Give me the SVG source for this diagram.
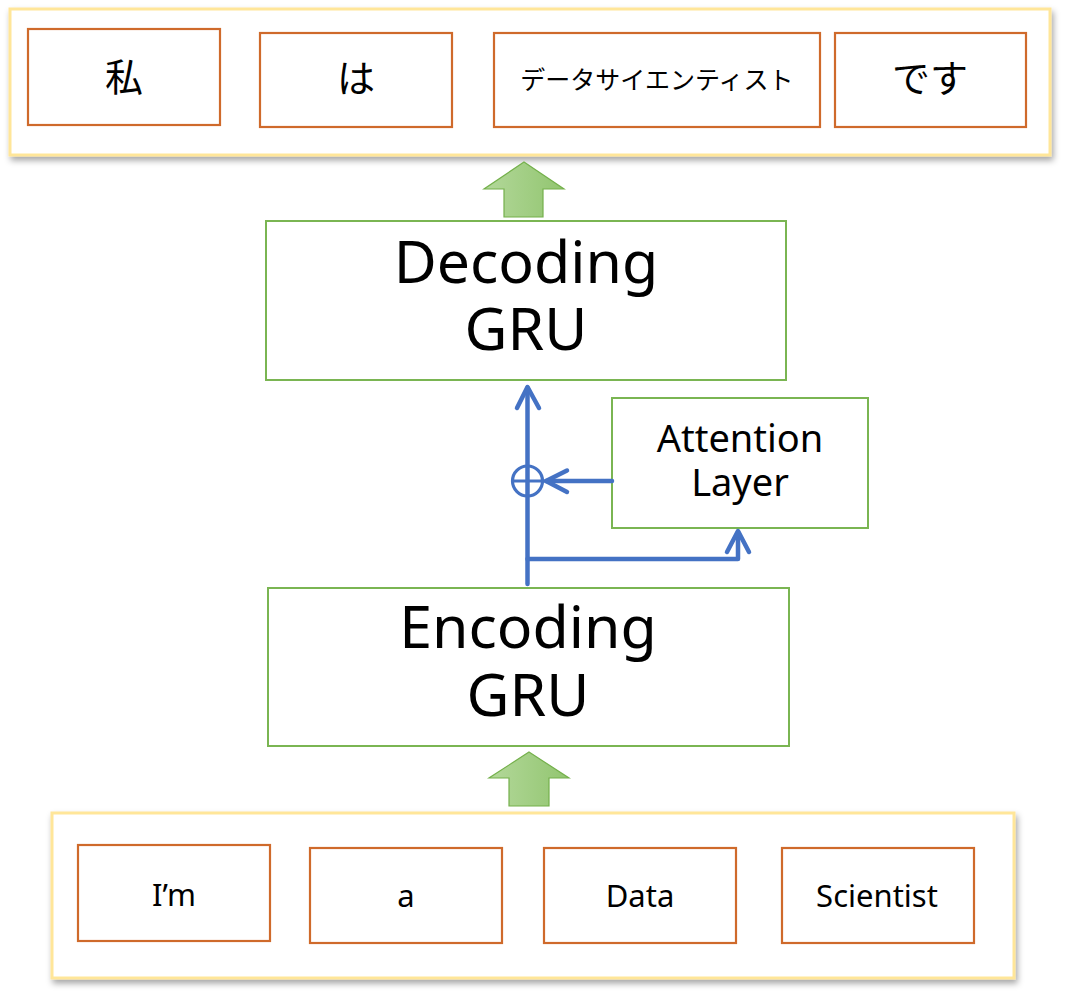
<svg xmlns="http://www.w3.org/2000/svg" width="1066" height="995" viewBox="0 0 1066 995">
<style>
.panel{fill:#fff;stroke:#FFE699;stroke-width:3}
.word{fill:#fff;stroke:#CF6A2B;stroke-width:2.2}
.gru{fill:#fff;stroke:#7AB552;stroke-width:2}
.bigarrow{fill:url(#g);stroke:#74B04B;stroke-width:1.2}
.en{font-family:"Noto Sans","Liberation Sans",sans-serif;fill:#000;text-anchor:middle}
.jp{font-family:"Noto Sans CJK JP","Noto Sans",sans-serif;fill:#000;text-anchor:middle}
.conn{fill:none;stroke:#4472C4;stroke-width:4.5;stroke-linecap:round;stroke-linejoin:round}
</style>
<defs>
<linearGradient id="g" x1="0" y1="0" x2="1" y2="0">
<stop offset="0" stop-color="#B3D89A"/>
<stop offset="1" stop-color="#92C570"/>
</linearGradient>
<filter id="sh" x="-5%" y="-10%" width="110%" height="130%">
<feDropShadow dx="2" dy="4" stdDeviation="3" flood-color="#000" flood-opacity="0.35"/>
</filter>
</defs>
<rect width="1066" height="995" fill="#fff"/>

<g id="output-panel">
<rect class="panel" x="10" y="9" width="1040" height="146" filter="url(#sh)"/>
</g>
<g id="out-watashi"><rect class="word" x="28" y="29" width="192" height="96"/><text class="jp" x="124" y="91" font-size="38">私</text></g>
<g id="out-wa"><rect class="word" x="260" y="33" width="192" height="94"/><text class="jp" x="356" y="92" font-size="38">は</text></g>
<g id="out-datascientist"><rect class="word" x="494" y="33" width="326" height="94"/><text class="jp" x="657" y="89" font-size="25">データサイエンティスト</text></g>
<g id="out-desu"><rect class="word" x="835" y="33" width="191" height="94"/><text class="jp" x="930" y="92" font-size="38">です</text></g>

<g id="arrow-top"><path class="bigarrow" d="M524,162 L564,189 L543,189 L543,217 L504,217 L504,189 L484,189 Z"/></g>

<g id="decoding-gru"><rect class="gru" x="266" y="221" width="520" height="159"/>
<text class="en" x="526" y="283" font-size="59">Decoding</text>
<text class="en" x="526" y="350" font-size="59">GRU</text></g>

<g id="attention-layer"><rect class="gru" x="612" y="398" width="256" height="130"/>
<text class="en" x="740" y="452" font-size="38">Attention</text>
<text class="en" x="740" y="496" font-size="38">Layer</text></g>

<g id="encoding-gru"><rect class="gru" x="268" y="588" width="521" height="158"/>
<text class="en" x="528" y="648" font-size="59">Encoding</text>
<text class="en" x="528" y="716" font-size="59">GRU</text></g>

<g id="arrow-bottom"><path class="bigarrow" d="M529,752 L569,778 L549,778 L549,806 L509,806 L509,778 L489,778 Z"/></g>

<g id="input-panel">
<rect class="panel" x="52" y="813" width="962" height="165" filter="url(#sh)"/>
</g>
<g id="in-im"><rect class="word" x="78" y="845" width="192" height="96"/><text class="en" x="174" y="906" font-size="31">I’m</text></g>
<g id="in-a"><rect class="word" x="310" y="848" width="192" height="95"/><text class="en" x="406" y="907" font-size="31">a</text></g>
<g id="in-data"><rect class="word" x="544" y="848" width="192" height="95"/><text class="en" x="640" y="907" font-size="31">Data</text></g>
<g id="in-scientist"><rect class="word" x="782" y="848" width="192" height="95"/><text class="en" x="877" y="907" font-size="31">Scientist</text></g>

<g id="connectors">
<path class="conn" d="M527.5,584 L527.5,388"/>
<path class="conn" d="M517,408 L527.5,387 L539,408"/>
<path class="conn" d="M612,481 L546,481"/>
<path class="conn" d="M567,470.5 L546,481 L567,492"/>
<circle cx="527.5" cy="481" r="15" fill="none" stroke="#4472C4" stroke-width="3.2"/>
<path d="M512.5,481 L542.5,481" stroke="#4472C4" stroke-width="3" fill="none"/>
<path class="conn" d="M527.5,559 L738,559 L738,532"/>
<path class="conn" d="M727,552 L738,531 L749,552"/>
</g>
</svg>
